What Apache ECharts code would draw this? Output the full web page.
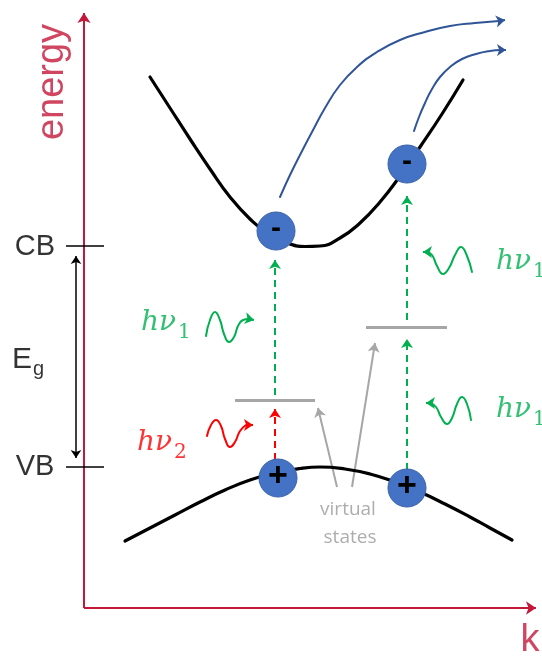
<!DOCTYPE html>
<html><head><meta charset="utf-8">
<script src="https://cdn.jsdelivr.net/npm/echarts@6/dist/echarts.min.js"></script>
<style>html,body{margin:0;padding:0;background:#fff}#c{width:542px;height:656px}</style>
</head><body><div id="c"></div>
<script>
// Diagram data in (k, energy) units; energy increases upward.
const cbBand = [[150,579],[170,548],[190,517],[210,487],[230,459],[250,437],[270,421],[290,412],[305,409.5],[320,410],[340,418],[360,433],[380,454],[400,480],[420,509],[442,542],[463,576]];
const vbBand = [[125,115],[150,128],[175,141],[200,154],[225,166],[250,176],[275,183],[300,187.5],[320,189],[345,187],[370,182],[395,174],[420,164],[445,152],[470,139],[490,128],[512,116]];
const escape1 = [[280,459],[290,481],[300,501],[312,524],[325,548],[340,571],[357,589],[377,604],[400,616],[425,624],[450,630],[475,633],[499,635]];
const escape1Tip = [505,636];
const escape2 = [[414,525],[419,539],[425,553],[432,567],[440,579],[450,589],[462,597],[476,602],[490,605],[501,606]];
const escape2Tip = [506,606];
const electrons = [[276,425],[407,492]];
const holes = [[278,178],[407,168]];
const virtualStates = [[[235,256],[315,256]],[[366,329],[447,329]]];
const greenTransitions = [[[275,261],[275,396]],[[407,336],[407,460]],[[407,186],[407,317]]];
const redTransitions = [[[275,196],[275,247]]];
const grayPointers = [[[337,169],[318,248]],[[352,169],[375,313]]];
const gapArrow = [[76,400],[76,198]];
const levelTicks = [[[66,410],[104,410]],[[66,189],[104,189]]];
const axisY = [[84,48],[84,643]];
const axisX = [[84,48],[536,48]];
const waveLeftGreen = [[206,320],[210,336],[215,344],[220,336],[224,322],[229,314],[234,319],[238,330],[243,336],[249,337]];
const waveLeftGreenTip = [254,336];
const waveRed = [[207,220],[211,231],[216,236],[221,230],[225,217],[230,209],[235,214],[240,225],[246,231]];
const waveRedTip = [253,231];
const waveRightUpper = [[472,384],[467,400],[461,409],[455,401],[449,388],[443,382],[437,390],[432,401],[427,404]];
const waveRightUpperTip = [423,404];
const waveRightLower = [[471,236],[467,252],[462,259],[457,252],[452,238],[447,232],[441,239],[436,249],[430,253]];
const waveRightLowerTip = [426,253];
const photonLabels = [
  {pos:[141,333], sub:'1', color:'#00B050'},
  {pos:[137,213], sub:'2', color:'#FF0000'},
  {pos:[496,394], sub:'1', color:'#00B050'},
  {pos:[496,246], sub:'1', color:'#00B050'}
];
const bandLabels = [{pos:[35,409], text:'CB'},{pos:[35,189], text:'VB'}];
const gapLabelPos = [12,296];
const axisNames = [{pos:[53,574], text:'energy', rotate:90},{pos:[530,15], text:'k', rotate:0}];
const virtualLabel = [{pos:[348,146], text:'virtual'},{pos:[350,118], text:'states'}];

const RED_AXIS = '#C4183A', GREEN = '#00B050', RED = '#FF0000', GRAY = '#A6A6A6', BLUE = '#2F5597';

function curve(data, color, width, z){
  return {type:'line', data:data, smooth:0.5, symbol:'none', silent:true, z:z||3,
    lineStyle:{color:color, width:width, cap:'round', join:'round'}};
}
function arrows(segs, color, width, opts){
  opts = opts || {};
  return {type:'lines', coordinateSystem:'cartesian2d', silent:true, z:opts.z||3,
    symbol: opts.symbol || ['none','arrow'], symbolSize: opts.size || 9,
    lineStyle:{color:color, width:width, type: opts.dash || 'solid', opacity:1},
    data: segs.map(s => ({coords:s}))};
}
function tipArrow(data, tip, color, width, size){
  return arrows([[data[data.length-1], tip]], color, width, {size:size});
}
function textPoint(pos, label, z){
  return {type:'scatter', data:[pos], symbolSize:0, silent:true, z:z||6, label:label};
}

const series = [];
series.push(arrows([axisY, axisX], RED_AXIS, 2, {size:10}));
series.push(arrows(levelTicks, '#000', 1.5, {symbol:['none','none']}));
series.push(arrows([gapArrow], '#000', 1.5, {symbol:['arrow','arrow'], size:8}));
series.push(curve(cbBand, '#000', 3.2));
series.push(curve(vbBand, '#000', 3.2));
series.push(curve(escape1, BLUE, 2));
series.push(tipArrow(escape1, escape1Tip, BLUE, 2, 9));
series.push(curve(escape2, BLUE, 2));
series.push(tipArrow(escape2, escape2Tip, BLUE, 2, 9));
series.push(arrows(virtualStates, GRAY, 3, {symbol:['none','none']}));
series.push(arrows(greenTransitions, GREEN, 2, {dash:[7,5], size:9}));
series.push(arrows(redTransitions, RED, 2, {dash:[7,5], size:9}));
series.push(arrows(grayPointers, GRAY, 2, {size:9}));
[[waveLeftGreen,waveLeftGreenTip,GREEN],[waveRed,waveRedTip,RED],[waveRightUpper,waveRightUpperTip,GREEN],[waveRightLower,waveRightLowerTip,GREEN]].forEach(w=>{
  series.push(curve(w[0], w[2], 2));
  series.push(tipArrow(w[0], w[1], w[2], 2, 9));
});
// carriers
series.push({type:'scatter', data:electrons, symbolSize:38, silent:true, z:8,
  itemStyle:{color:'#4472C4', borderColor:'#3A62A8', borderWidth:1, opacity:1},
  label:{show:true, position:'inside', formatter:'-', color:'#000', fontSize:30, fontWeight:'bold', fontFamily:'Liberation Sans', offset:[0,-2]}});
series.push({type:'scatter', data:holes, symbolSize:38, silent:true, z:8,
  itemStyle:{color:'#4472C4', borderColor:'#3A62A8', borderWidth:1, opacity:1},
  label:{show:true, position:'inside', formatter:'+', color:'#000', fontSize:34, fontWeight:'bold', fontFamily:'Liberation Sans', offset:[0,-1]}});
// texts
axisNames.forEach(a => series.push(textPoint(a.pos, {show:true, position:'inside', formatter:a.text, rotate:a.rotate, color:RED_AXIS, fontSize:38, fontFamily:'Liberation Sans'})));
bandLabels.forEach(b => series.push(textPoint(b.pos, {show:true, position:'inside', formatter:b.text, color:'#000', fontSize:29, fontFamily:'Liberation Sans'})));
series.push(textPoint(gapLabelPos, {show:true, position:'right', distance:0, formatter:'{a|E}{b|g}',
  rich:{a:{fontSize:30, color:'#000', fontFamily:'Liberation Sans'}, b:{fontSize:20, color:'#000', fontFamily:'Liberation Sans', padding:[18,0,0,1]}}}));
photonLabels.forEach(p => series.push(textPoint(p.pos, {show:true, position:'right', distance:0, formatter:'{a|hν}{b|'+p.sub+'}',
  rich:{a:{fontSize:28, fontStyle:'italic', color:p.color, fontFamily:'DejaVu Serif'}, b:{fontSize:20, color:p.color, fontFamily:'DejaVu Serif', padding:[20,0,0,2]}}})));
virtualLabel.forEach(v => series.push(textPoint(v.pos, {show:true, position:'inside', formatter:v.text, color:'#999999', fontSize:19, fontFamily:'Open Sans'})));

const chart = echarts.init(document.getElementById('c'), null, {renderer:'canvas'});
chart.setOption({
  animation:false,
  backgroundColor:'#fff',
  grid:{left:0, right:0, top:0, bottom:0},
  xAxis:{type:'value', min:0, max:542, show:false},
  yAxis:{type:'value', min:0, max:656, show:false},
  series:series
});
</script></body></html>
